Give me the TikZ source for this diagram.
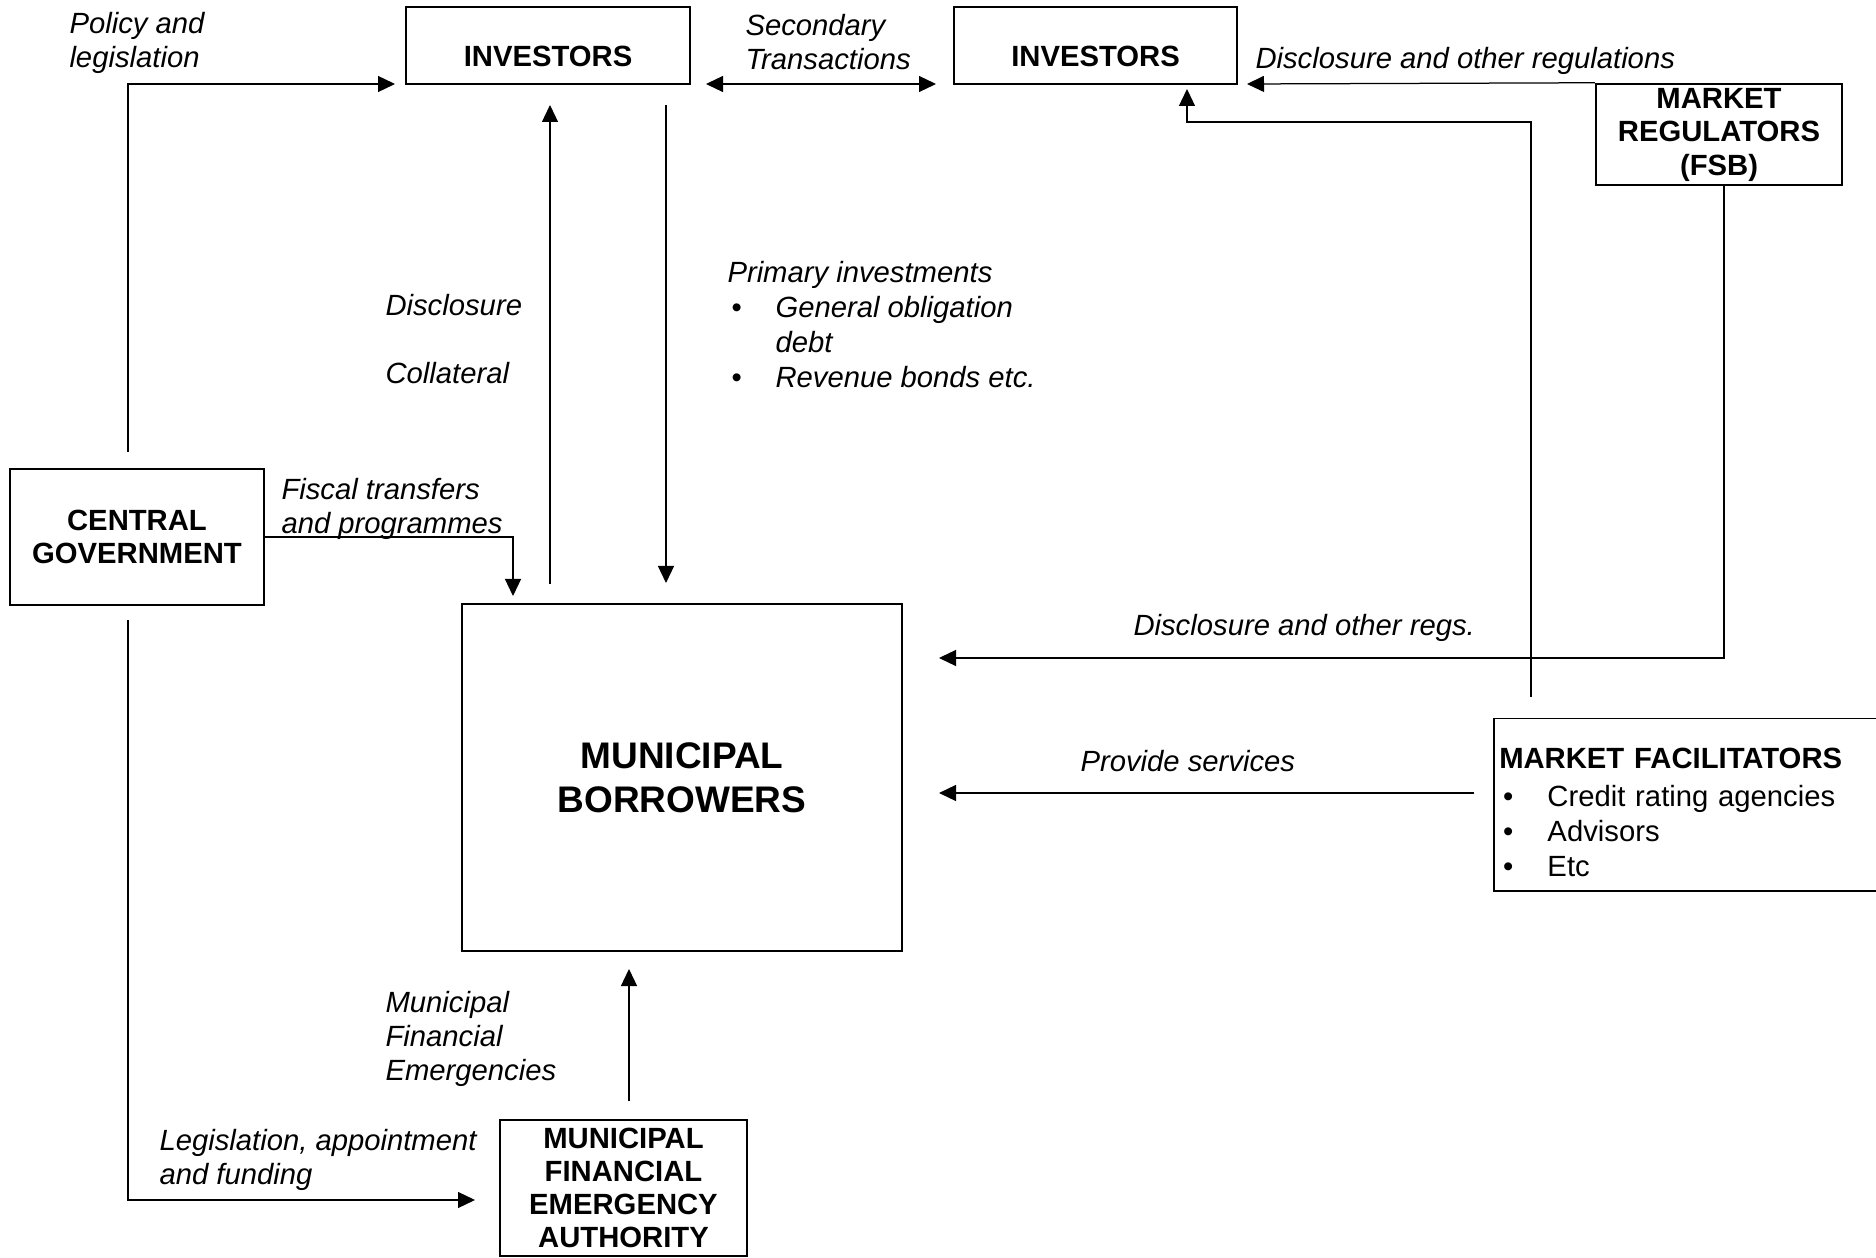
\documentclass[tikz,border=0pt]{standalone}
\usepackage{fontspec}
\setmainfont{Liberation Sans}
\usetikzlibrary{arrows.meta}

\newcommand\bul{\hspace*{1.6pt}\makebox[17.6pt][l]{\upshape\textbullet}}
\newcommand\fbul{\hspace*{1.5pt}\makebox[17.8pt][l]{\textbullet}}

\tikzset{
  box/.style={draw, line width=1pt, align=center, inner sep=0pt,
    font=\bfseries\fontsize{11.7}{13.4}\selectfont},
  lowtext/.style={text height=17pt, text depth=0pt},
  lbl/.style={align=left, anchor=west, inner sep=0pt,
    font=\itshape\fontsize{11.7}{13.6}\selectfont},
  arr/.style={line width=0.5pt, -{Triangle[length=6.8pt,width=6.4pt]}},
}

\begin{document}
\begin{tikzpicture}[x=0.4pt,y=-0.4pt]
\useasboundingbox (0,0) rectangle (1876,1258);

        \begin{scope}[every node/.style={box}]
          \node[lowtext, minimum width=113.6pt, minimum height=30.8pt] (inv1) at (548,45.5)   {INVESTORS};
          \node[lowtext, minimum width=113.2pt, minimum height=30.8pt] (inv2) at (1095.5,45.5) {INVESTORS};
          \node[minimum width=98.4pt,  minimum height=40.4pt] (reg)  at (1719,134.5)  {MARKET\\REGULATORS\\(FSB)};
          \node[minimum width=101.6pt, minimum height=54.4pt] (cg)   at (137,537)     {CENTRAL\\GOVERNMENT};
          \node[minimum width=176pt,   minimum height=138.8pt,
                font=\bfseries\fontsize{14.8}{17.7}\selectfont] (mb) at (682,777.5) {MUNICIPAL\\BORROWERS};
          \node[minimum width=98.8pt,  minimum height=54.4pt,
                font=\bfseries\fontsize{11.7}{13.3}\selectfont] (mfea) at (623.5,1188) {MUNICIPAL\\FINANCIAL\\EMERGENCY\\AUTHORITY};
          \node[line width=0.6pt, anchor=north west, align=left, text width=150.4pt,
                inner xsep=2.2pt, minimum height=68.8pt,
                font=\mdseries\fontsize{11.7}{14}\selectfont] (fac) at (1493,718)
                {\rule{0pt}{14.5pt}\textbf{MARKET FACILITATORS}\\[1pt]\fbul Credit rating agencies\\\fbul Advisors\\\fbul Etc};
        \end{scope}

        \begin{scope}[every node/.style={lbl}]
          \node (pol)   at (69,43.2)   {Policy and\\legislation};
          \node (sec)   at (745,42.2)  {Secondary\\Transactions};
          \node (dreg)  at (1255,61)   {Disclosure and other regulations};
          \node (disc)  at (385,305)   {Disclosure};
          \node (coll)  at (385,373)   {Collateral};
          \node[font=\itshape\fontsize{11.7}{13.9}\selectfont] (prim) at (727,324.5)
                {Primary investments\\\bul General obligation\\\hspace*{19.2pt}debt\\\bul Revenue bonds etc.};
          \node (fisc)  at (281,508.5) {Fiscal transfers\\and programmes};
          \node (dregs) at (1133,627.5) {Disclosure and other regs.};
          \node (serv)  at (1080,761)  {Provide services};
          \node (emerg) at (385,1039)  {Municipal\\Financial\\Emergencies};
          \node (legis) at (159,1160)  {Legislation, appointment\\and funding};
        \end{scope}

        % arrow ends
        \coordinate (polS)  at (128,452);
        \coordinate (polE)  at (395,84);
        \coordinate (secW)  at (706,84);
        \coordinate (secE)  at (936,84);
        \coordinate (dregE) at (1247,84);
        \coordinate (facS)  at (1531,697);
        \coordinate (facE)  at (1187,89);
        \coordinate (upS)   at (550,584);
        \coordinate (upE)   at (550,105);
        \coordinate (dnS)   at (666,105);
        \coordinate (dnE)   at (666,583);
        \coordinate (fiscE) at (513,596);
        \coordinate (regE)  at (939,658);
        \coordinate (servS) at (1474,793);
        \coordinate (servE) at (939,793);
        \coordinate (legS)  at (128,620);
        \coordinate (legE)  at (475,1200);
        \coordinate (emS)   at (629,1101);
        \coordinate (emE)   at (629,969);

        \begin{scope}[every path/.style={arr}]
          \draw (polS) |- (polE);
          \draw[{Triangle[length=6.8pt,width=6.4pt]}-{Triangle[length=6.8pt,width=6.4pt]}] (secW) -- (secE);
          \draw (reg.north west) -- (dregE);
          \draw (facS) -- (1531,122) -| (facE);
          \draw (upS) -- (upE);
          \draw (dnS) -- (dnE);
          \draw (cg.east) -| (fiscE);
          \draw ([xshift=2pt]reg.south) |- (regE);
          \draw (servS) -- (servE);
          \draw (legS) |- (legE);
          \draw (emS) -- (emE);
        \end{scope}

\end{tikzpicture}
\end{document}
